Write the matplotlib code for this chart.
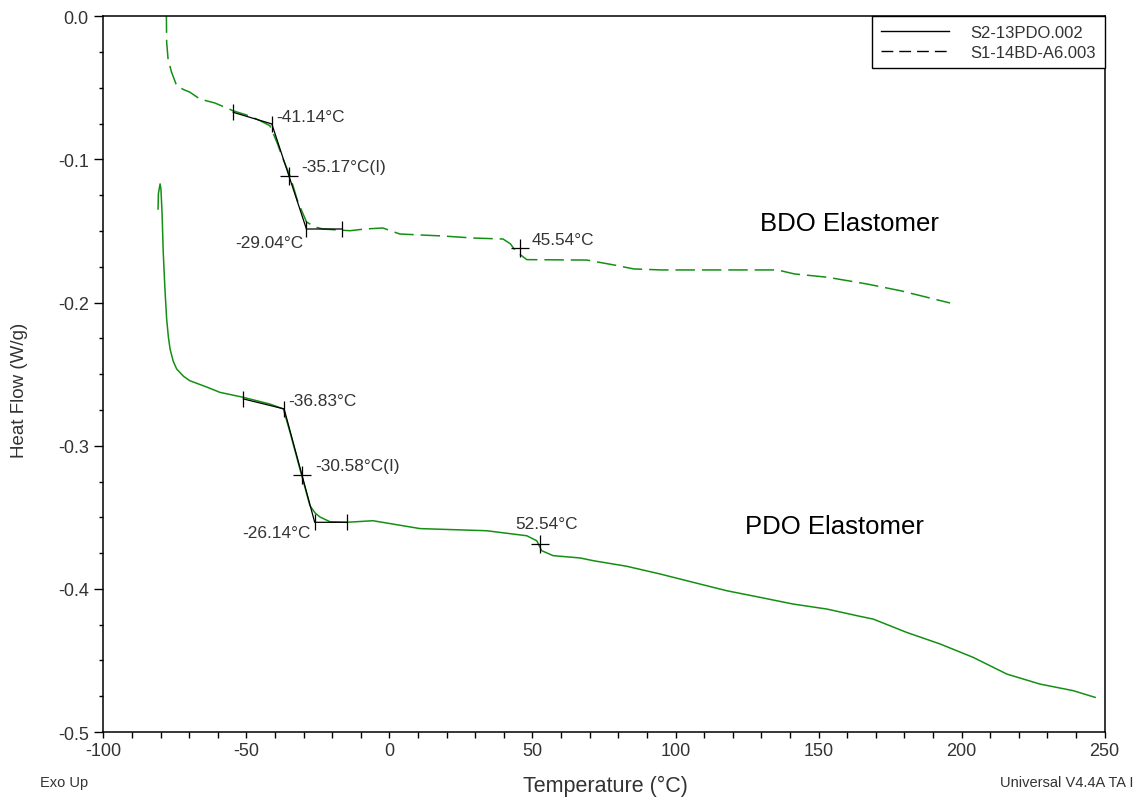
import matplotlib
matplotlib.use("Agg")
import matplotlib.pyplot as plt
from matplotlib.lines import Line2D

plt.rcParams['font.family'] = ['Liberation Sans', 'DejaVu Sans']
plt.rcParams['lines.scale_dashes'] = False

# ---- data ----
bdo_T = [-78.0, -77.9, -77.4, -76.2, -74.4, -72.0, -69.8, -66.3, -61.0, -54.7, -48.8, -45.3,
         -41.8, -39.4, -37.2, -34.8, -32.0, -29.0, -26.0, -23.3, -13.8, -8.6, -2.3, 3.6, 18.7,
         29.2, 39.7, 42.3, 44.1, 48.0, 69.0, 78.4, 85.4, 95.0, 135.6, 141.6, 153.1, 166.9,
         178.6, 196.0]
bdo_H = [0.002, -0.018, -0.030, -0.039, -0.0485, -0.0512, -0.053, -0.0578, -0.0606, -0.066,
         -0.0697, -0.0729, -0.0764, -0.0878, -0.0997, -0.1114, -0.1297, -0.1437, -0.1472,
         -0.1486, -0.1498, -0.1486, -0.1479, -0.1521, -0.1535, -0.1549, -0.1556, -0.159,
         -0.164, -0.170, -0.1703, -0.1737, -0.1765, -0.1772, -0.1772, -0.180, -0.1823, -0.187,
         -0.1917, -0.2003]

pdo_T = [-80.9, -80.8, -80.2, -79.9, -79.5, -79.1, -78.5, -77.9, -77.3, -76.7, -75.6, -74.4,
         -72.0, -69.8, -63.9, -59.3, -51.1, -41.8, -37.1, -34.8, -31.3, -27.8, -26.0, -24.3,
         -20.8, -15.0, -5.8, 10.7, 34.0, 48.0, 51.5, 53.2, 57.2, 66.6, 71.2, 82.9, 94.6, 106.1,
         117.9, 129.5, 141.1, 152.9, 164.5, 169.1, 180.8, 192.5, 204.0, 213.5, 215.8, 227.4,
         239.0, 246.7]
pdo_H = [-0.1346, -0.1241, -0.1171, -0.1206, -0.138, -0.1647, -0.1906, -0.2115, -0.2240,
         -0.2325, -0.2410, -0.2464, -0.2515, -0.2546, -0.259, -0.2627, -0.2662, -0.2709,
         -0.2743, -0.2904, -0.3163, -0.3419, -0.3470, -0.3498, -0.3531, -0.3535, -0.3524,
         -0.3579, -0.3594, -0.3629, -0.3664, -0.3733, -0.3768, -0.3784, -0.3803, -0.3842,
         -0.3896, -0.3954, -0.4013, -0.4059, -0.4106, -0.4141, -0.4192, -0.4211, -0.4304,
         -0.4385, -0.4478, -0.4572, -0.4595, -0.4665, -0.4711, -0.4758]

# glass transition analysis (tangent start, onset, end, baseline end), inflection, cross
bdo_tan_T = [-54.6, -41.14, -29.04, -16.7]
bdo_tan_H = [-0.0671, -0.0752, -0.1486, -0.1486]
bdo_infl = (-35.17, -0.1114)
bdo_cross = (45.54, -0.162)

pdo_tan_T = [-51.1, -36.83, -26.14, -15.0]
pdo_tan_H = [-0.2673, -0.2743, -0.3535, -0.3535]
pdo_infl = (-30.58, -0.3206)
pdo_cross = (52.54, -0.3687)

bdo_labels = ["-41.14°C", "-35.17°C(I)", "-29.04°C", "45.54°C"]
pdo_labels = ["-36.83°C", "-30.58°C(I)", "-26.14°C", "52.54°C"]
legend_labels = ["S2-13PDO.002", "S1-14BD-A6.003"]
x_ticks = [-100, -50, 0, 50, 100, 150, 200, 250]
y_ticks = [0.0, -0.1, -0.2, -0.3, -0.4, -0.5]

GREEN = '#139013'
TXT = '#333333'

fig = plt.figure(figsize=(11.38, 8.04), dpi=100)
ax = fig.add_axes([0.0909, 0.0883, 0.8797, 0.8902])

ax.plot(pdo_T, pdo_H, color=GREEN, lw=1.1)
ax.plot(bdo_T, bdo_H, color=GREEN, lw=1.1, dashes=(14, 5))

for tT, tH, infl, cross in [(bdo_tan_T, bdo_tan_H, bdo_infl, bdo_cross),
                            (pdo_tan_T, pdo_tan_H, pdo_infl, pdo_cross)]:
    ax.plot(tT, tH, color='black', lw=0.9)
    ax.plot(tT, tH, ls='none', marker='|', ms=12, mew=0.9, color='black')
    ax.plot([infl[0]], [infl[1]], ls='none', marker='+', ms=13, mew=0.9, color='black')
    ax.plot([cross[0]], [cross[1]], ls='none', marker='+', ms=13, mew=0.9, color='black')

fs_ann = 12.4
ax.text(-39.7, -0.0697, bdo_labels[0], ha='left', va='center', fontsize=fs_ann, color=TXT)
ax.text(-30.7, -0.1046, bdo_labels[1], ha='left', va='center', fontsize=fs_ann, color=TXT)
ax.text(-30.2, -0.1579, bdo_labels[2], ha='right', va='center', fontsize=fs_ann, color=TXT)
ax.text(49.8, -0.156, bdo_labels[3], ha='left', va='center', fontsize=fs_ann, color=TXT)
ax.text(-35.4, -0.2686, pdo_labels[0], ha='left', va='center', fontsize=fs_ann, color=TXT)
ax.text(-26.0, -0.314, pdo_labels[1], ha='left', va='center', fontsize=fs_ann, color=TXT)
ax.text(-27.6, -0.3603, pdo_labels[2], ha='right', va='center', fontsize=fs_ann, color=TXT)
ax.text(43.9, -0.354, pdo_labels[3], ha='left', va='center', fontsize=fs_ann, color=TXT)

ax.text(160.7, -0.1441, "BDO Elastomer", ha='center', va='center', fontsize=18.5, color='black')
ax.text(155.4, -0.3559, "PDO Elastomer", ha='center', va='center', fontsize=18.5, color='black')

ax.set_xlim(-100, 250)
ax.set_ylim(-0.5, 0.0)
ax.set_xticks(x_ticks)
ax.set_xticklabels([str(v) for v in x_ticks])
ax.set_yticks(y_ticks)
ax.set_yticklabels([f"{v:.1f}" for v in y_ticks])
ax.set_xticks(range(-100, 251, 10), minor=True)
ax.set_yticks([-0.5 + 0.025 * i for i in range(21)], minor=True)
ax.tick_params(axis='x', which='major', direction='out', length=4, width=1, pad=3,
               labelsize=13, labelcolor=TXT)
ax.tick_params(axis='x', which='minor', direction='out', length=4, width=1)
ax.tick_params(axis='y', which='major', direction='out', length=6.5, width=1, pad=4,
               labelsize=13, labelcolor=TXT)
ax.tick_params(axis='y', which='minor', direction='out', length=3.2, width=1)
for s in ax.spines.values():
    s.set_linewidth(1.1)

ax.set_ylabel("Heat Flow (W/g)", fontsize=13.5, color=TXT)
ax.yaxis.set_label_coords((28 - 103.5) / 1001, 0.479)
ax.set_xlabel("Temperature (°C)", fontsize=15.5, color=TXT)
ax.xaxis.label.set_verticalalignment('center')
ax.xaxis.set_label_coords((605 - 103.5) / 1001, -(786 - 733) / 716)

fig.text(40 / 1138, 1 - 783 / 804, "Exo Up", fontsize=10.5, color=TXT, ha='left', va='center')
fig.text(1134 / 1138, 1 - 783 / 804, "Universal V4.4A TA I", fontsize=10.5, color=TXT,
         ha='right', va='center')

handles = [Line2D([], [], color='black', lw=1.0),
           Line2D([], [], color='black', lw=1.0, dashes=(8.5, 4.3))]
leg = ax.legend(handles, legend_labels, loc='upper right', bbox_to_anchor=(1.0, 1.0),
                borderaxespad=0, fontsize=12, frameon=True, fancybox=False,
                edgecolor='black', framealpha=1, handlelength=4.1, handletextpad=1.3,
                labelspacing=0.3, borderpad=0.5, labelcolor=TXT)
leg.get_frame().set_linewidth(1.0)

fig.savefig("out.png", dpi=100)
